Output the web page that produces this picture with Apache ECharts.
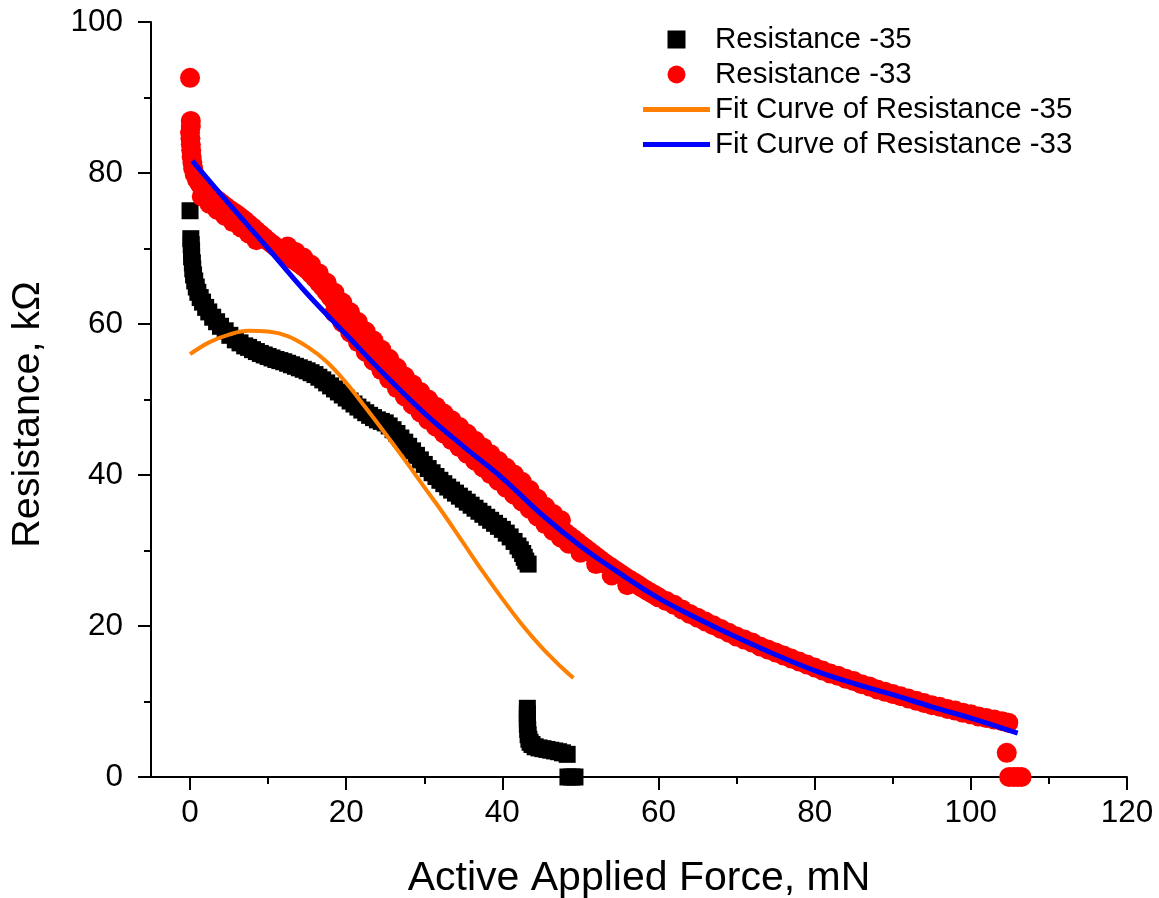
<!DOCTYPE html>
<html>
<head>
<meta charset="utf-8">
<script src="https://cdn.jsdelivr.net/npm/echarts@6/dist/echarts.min.js"></script>
<style>html,body{margin:0;padding:0;background:#fff}#chart{width:1159px;height:898px}</style>
</head>
<body>
<div id="chart"></div>
<script>
// ---- data ----
const xMajorTicks = [0, 20, 40, 60, 80, 100, 120];
const xMinorTicks = [10, 30, 50, 70, 90, 110];

const seriesNames = ['Resistance -35', 'Resistance -33', 'Fit Curve of Resistance -35', 'Fit Curve of Resistance -33'];

// Resistance -35 (black squares) [force mN, resistance kΩ]
const res35 = [
  [0, 75.0],
  [0.1, 71.3], [0.15, 70.5], [0.2, 69.7], [0.2, 68.9], [0.3, 68.1], [0.35, 67.3], [0.45, 66.5], [0.6, 65.7],
  [0.8, 64.9], [1.0, 64.2], [1.3, 63.5], [1.6, 62.9], [2.0, 62.2], [2.4, 61.6], [2.9, 60.9], [3.4, 60.3],
  [3.9, 59.7], [4.5, 59.1], [5.1, 58.5], [5.8, 57.9], [6.4, 57.5], [7.0, 57.1], [7.5, 56.9], [8, 56.6],
  [8.5, 56.35], [9, 56.1], [9.5, 55.9], [10, 55.7], [10.5, 55.5], [11, 55.3], [11.5, 55.15], [12, 55.0],
  [12.5, 54.8], [13, 54.6], [13.5, 54.4], [14, 54.2], [14.5, 54.0], [15, 53.8], [15.5, 53.55], [16, 53.3],
  [16.5, 52.95], [17, 52.6], [17.5, 52.2], [18, 51.8], [18.5, 51.4], [19, 51.0], [19.5, 50.6], [20, 50.2],
  [20.5, 49.8], [21, 49.4], [21.5, 49.0], [22, 48.6], [22.5, 48.25], [23, 47.9], [23.5, 47.6], [24, 47.3],
  [24.5, 47.1], [25, 46.9], [25.5, 46.5], [26, 46.0], [26.5, 45.5], [27, 44.9], [27.5, 44.35], [28, 43.8],
  [28.5, 43.2], [29, 42.6], [29.5, 42.0], [30, 41.4], [30.5, 40.85], [31, 40.3], [31.5, 39.8], [32, 39.3],
  [32.5, 38.85], [33, 38.4], [33.5, 38.0], [34, 37.6], [34.5, 37.2], [35, 36.8], [35.5, 36.4], [36, 36.0],
  [36.5, 35.6], [37, 35.2], [37.5, 34.8], [38, 34.4], [38.5, 34.0], [39, 33.6], [39.5, 33.2], [40, 32.8],
  [40.5, 32.3], [41, 31.8], [41.5, 31.2], [42, 30.6], [42.3, 30.1], [42.6, 29.6], [42.8, 29.1], [43, 28.6],
  [43.3, 28.2],
  [43.2, 9.1], [43.2, 8.4], [43.2, 7.7], [43.2, 7.0], [43.25, 6.3], [43.3, 5.6], [43.4, 5.0], [43.55, 4.6],
  [43.8, 4.3], [44.2, 4.0], [44.7, 3.85], [45.2, 3.75], [45.7, 3.65], [46.2, 3.55], [46.7, 3.45], [47.2, 3.35],
  [47.7, 3.2], [48.3, 3.0],
  [48.4, 0], [48.9, 0], [49.3, 0]
];

// Resistance -33 (red circles)
const res33 = [
  [0, 92.6],
  [0.1, 86.9], [0.1, 86.2], [0.0, 85.4], [0.05, 84.6], [0.1, 83.8], [0.15, 83.0], [0.2, 82.2], [0.3, 81.4],
  [0.4, 80.6], [0.6, 79.8], [0.9, 79.1], [1.2, 78.6], [1.5, 78.2], [2.0, 77.7], [2.5, 77.2], [3, 76.8],
  [3.5, 76.4], [4, 76.0], [4.5, 75.6], [5, 75.2], [5.5, 74.85], [6, 74.5], [6.5, 74.1], [7, 73.7],
  [7.5, 73.25], [8, 72.8], [8.5, 72.35], [9, 71.9], [9.5, 71.45], [10, 71.0], [10.5, 70.6], [11, 70.2],
  [11.5, 69.8], [12, 69.4], [12.5, 69.05], [13, 68.7], [13.5, 68.35], [14, 68.0], [14.5, 67.6], [15, 67.2],
  [15.5, 66.65], [16, 66.1], [16.5, 65.5], [17, 64.9], [17.5, 64.25], [18, 63.6], [18.5, 62.95], [19, 62.3],
  [19.5, 61.65], [20, 61.0], [20.5, 60.35], [21, 59.7], [21.5, 59.05], [22, 58.4], [22.5, 57.8], [23, 57.2],
  [23.5, 56.6], [24, 56.0], [24.5, 55.4], [25, 54.8], [25.5, 54.2], [26, 53.6], [26.5, 53.0], [27, 52.4],
  [27.5, 51.85], [28, 51.3], [28.5, 50.8], [29, 50.3], [29.5, 49.8], [30, 49.3], [30.5, 48.8], [31, 48.3],
  [31.5, 47.85], [32, 47.4], [32.5, 46.95], [33, 46.5], [33.5, 46.05], [34, 45.6], [34.5, 45.15], [35, 44.7],
  [35.5, 44.25], [36, 43.8], [36.5, 43.35], [37, 42.9], [37.5, 42.45], [38, 42.0], [38.5, 41.55], [39, 41.1],
  [39.5, 40.65], [40, 40.2], [40.5, 39.75], [41, 39.3], [41.5, 38.85], [42, 38.4], [42.5, 37.9], [43, 37.3],
  [43.5, 36.8], [44, 36.2], [44.5, 35.65], [45, 35.1], [45.5, 34.6], [46, 34.1], [46.5, 33.65], [47, 33.2],
  [47.5, 32.8], [48, 32.4], [48.5, 32.0], [49, 31.6], [49.5, 31.2], [50, 30.8], [50.5, 30.4], [51, 30.0],
  [51.5, 29.6], [52, 29.2], [52.5, 28.8], [53, 28.4], [53.5, 28.05], [54, 27.7], [54.5, 27.35], [55, 27.0],
  [55.5, 26.65], [56, 26.3], [56.5, 26.0], [57, 25.7], [57.5, 25.35], [58, 25.0], [58.5, 24.7], [59, 24.4],
  [59.5, 24.1], [60, 23.8], [61, 23.3], [62, 22.8], [63, 22.2], [64, 21.6], [65, 21.1], [66, 20.6],
  [67, 20.1], [68, 19.6], [69, 19.1], [70, 18.6], [71, 18.2], [72, 17.8], [73, 17.3], [74, 16.9],
  [75, 16.5], [76, 16.1], [77, 15.7], [78, 15.3], [79, 14.9], [80, 14.5], [81, 14.1], [82, 13.7],
  [83, 13.4], [84, 13.0], [85, 12.7], [86, 12.3], [87, 12.0], [88, 11.6], [89, 11.3], [90, 11.0],
  [91, 10.7], [92, 10.4], [93, 10.1], [94, 9.8], [95, 9.5], [96, 9.3], [97, 9.0], [98, 8.8],
  [99, 8.5], [100, 8.3], [101, 8.0], [102, 7.8], [103, 7.6], [104, 7.4], [104.8, 7.2],
  // upper edge of the scattered band
  [12.5, 70.25], [13.5, 69.55], [14.5, 68.8], [15.5, 67.85], [16.5, 66.7], [17.5, 65.45], [18.5, 64.15], [19.5, 62.85],
  [20.5, 61.55], [21.5, 60.25], [22.5, 59.0], [23.5, 57.8], [24.5, 56.6], [25.5, 55.4], [26.5, 54.2], [27.5, 53.05],
  [28.5, 52.0], [29.5, 51.0], [30.5, 50.0], [31.5, 49.05], [32.5, 48.15], [33.5, 47.25], [34.5, 46.35], [35.5, 45.45],
  [36.5, 44.55], [37.5, 43.65], [38.5, 42.75], [39.5, 41.85], [40.5, 40.95], [41.5, 40.05], [42.5, 39.1], [43.5, 38.0],
  [44.5, 36.85], [45.5, 35.8], [46.5, 34.85], [47.5, 34.0],
  // lower edge of the scattered band
  [1.5, 76.9], [2.5, 75.9], [3.5, 75.1], [4.5, 74.3], [5.5, 73.5], [6.5, 72.8], [7.5, 72.0], [8.5, 71.1],
  [18.5, 61.5], [19.5, 60.2], [20.5, 58.9], [21.5, 57.6], [22.5, 56.3], [23.5, 55.1], [24.5, 53.9], [25.5, 52.7],
  [26.5, 51.5], [27.5, 50.4], [28.5, 49.3], [29.5, 48.3], [30.5, 47.3], [31.5, 46.4], [32.5, 45.5], [33.5, 44.6],
  [34.5, 43.7], [35.5, 42.8], [36.5, 41.9], [37.5, 41.0], [38.5, 40.1], [39.5, 39.2], [40.5, 38.3], [41.5, 37.4],
  [42.5, 36.5], [43.5, 35.5], [44.5, 34.5], [45.5, 33.5], [46.5, 32.6], [47.5, 31.7], [48.5, 30.9], [50, 29.7],
  [52, 28.2], [54, 26.7], [56, 25.4],
  // drop at the end
  [104.6, 3.2], [104.9, 0], [105.5, 0], [106, 0], [106.5, 0]
];

// Fit Curve of Resistance -35 (orange)
const fit35 = [
  [0, 56.0], [2.5, 57.6], [5, 58.6], [7.5, 59.1], [10, 59.0], [12.5, 58.4], [15, 57.0], [17.5, 55.0],
  [20, 52.2], [22.5, 48.9], [25, 45.5], [27.5, 42.0], [30, 38.4], [32.5, 34.8], [35, 31.0], [37.5, 27.2],
  [40, 23.6], [42.5, 20.2], [45, 17.2], [47.5, 14.6], [49.1, 13.1]
];

// Fit Curve of Resistance -33 (blue)
const fit33 = [
  [0.3, 81.6], [5, 75.9], [10, 70.0], [15, 64.0], [20, 58.6], [25, 53.2], [30, 48.2], [35, 43.8],
  [40, 39.6], [45, 34.8], [50, 30.6], [55, 27.0], [60, 23.7], [65, 21.0], [70, 18.5], [75, 16.2],
  [80, 14.1], [85, 12.4], [90, 10.9], [95, 9.3], [100, 7.8], [106, 5.8]
];

const FONT = "'Liberation Sans', Arial, sans-serif";

const chart = echarts.init(document.getElementById('chart'), null, {renderer: 'canvas'});
chart.setOption({
  backgroundColor: '#ffffff',
  animation: false,
  grid: {left: 151, right: 32, top: 22, bottom: 121, containLabel: false, outerBoundsMode: 'none'},
  legend: {
    left: 638, top: 17, orient: 'vertical',
    itemWidth: 67, itemHeight: 18, itemGap: 0,
    data: [
      {name: seriesNames[0], icon: 'path://M0,0H10V10H0Z'},
      {name: seriesNames[1], icon: 'circle'},
      {name: seriesNames[2], icon: 'path://M0,0H67V5H0Z'},
      {name: seriesNames[3], icon: 'path://M0,0H67V5H0Z'}
    ],
    textStyle: {fontFamily: FONT, fontSize: 29.5, color: '#000', lineHeight: 35}
  },
  xAxis: [
    {
      type: 'value', min: -5, max: 120, position: 'bottom',
      name: 'Active Applied Force, mN', nameLocation: 'middle', nameGap: 81,
      nameTextStyle: {fontFamily: FONT, fontSize: 41, color: '#000'},
      axisLine: {show: true, onZero: false, lineStyle: {color: '#000', width: 2}},
      axisTick: {show: true, inside: false, length: 13, lineStyle: {color: '#000', width: 2}, customValues: xMajorTicks},
      axisLabel: {show: true, margin: 20, fontFamily: FONT, fontSize: 31.5, color: '#000', customValues: xMajorTicks},
      splitLine: {show: false}
    },
    {
      type: 'value', min: -5, max: 120, position: 'bottom', gridIndex: 0,
      axisLine: {show: false, onZero: false},
      axisTick: {show: true, inside: false, length: 7, lineStyle: {color: '#000', width: 2}, customValues: xMinorTicks},
      axisLabel: {show: false},
      splitLine: {show: false}
    }
  ],
  yAxis: {
    type: 'value', min: 0, max: 100, interval: 20,
    name: 'Resistance, kΩ', nameLocation: 'middle', nameGap: 103, nameRotate: 90,
    nameTextStyle: {fontFamily: FONT, fontSize: 39.5, color: '#000', padding: [0, 30, 0, 0]},
    axisLine: {show: true, onZero: false, lineStyle: {color: '#000', width: 2}},
    axisTick: {show: true, inside: false, length: 13, lineStyle: {color: '#000', width: 2}},
    minorTick: {show: true, splitNumber: 2, length: 7, lineStyle: {color: '#000', width: 2}},
    axisLabel: {margin: 28, fontFamily: FONT, fontSize: 31.5, color: '#000'},
    splitLine: {show: false}
  },
  series: [
    {
      name: seriesNames[0], type: 'scatter', data: res35, symbol: 'rect', symbolSize: 17,
      itemStyle: {color: '#000000', opacity: 1}, z: 2
    },
    {
      name: seriesNames[1], type: 'scatter', data: res33, symbol: 'circle', symbolSize: 20,
      itemStyle: {color: '#ff0000', opacity: 1}, z: 3
    },
    {
      name: seriesNames[2], type: 'line', data: fit35, smooth: 0.4, symbol: 'none', showSymbol: false,
      lineStyle: {color: '#ff8000', width: 4}, itemStyle: {color: '#ff8000'}, z: 4
    },
    {
      name: seriesNames[3], type: 'line', data: fit33, smooth: 0.4, symbol: 'none', showSymbol: false,
      lineStyle: {color: '#0000ff', width: 5}, itemStyle: {color: '#0000ff'}, z: 5
    }
  ]
});
</script>
</body>
</html>
